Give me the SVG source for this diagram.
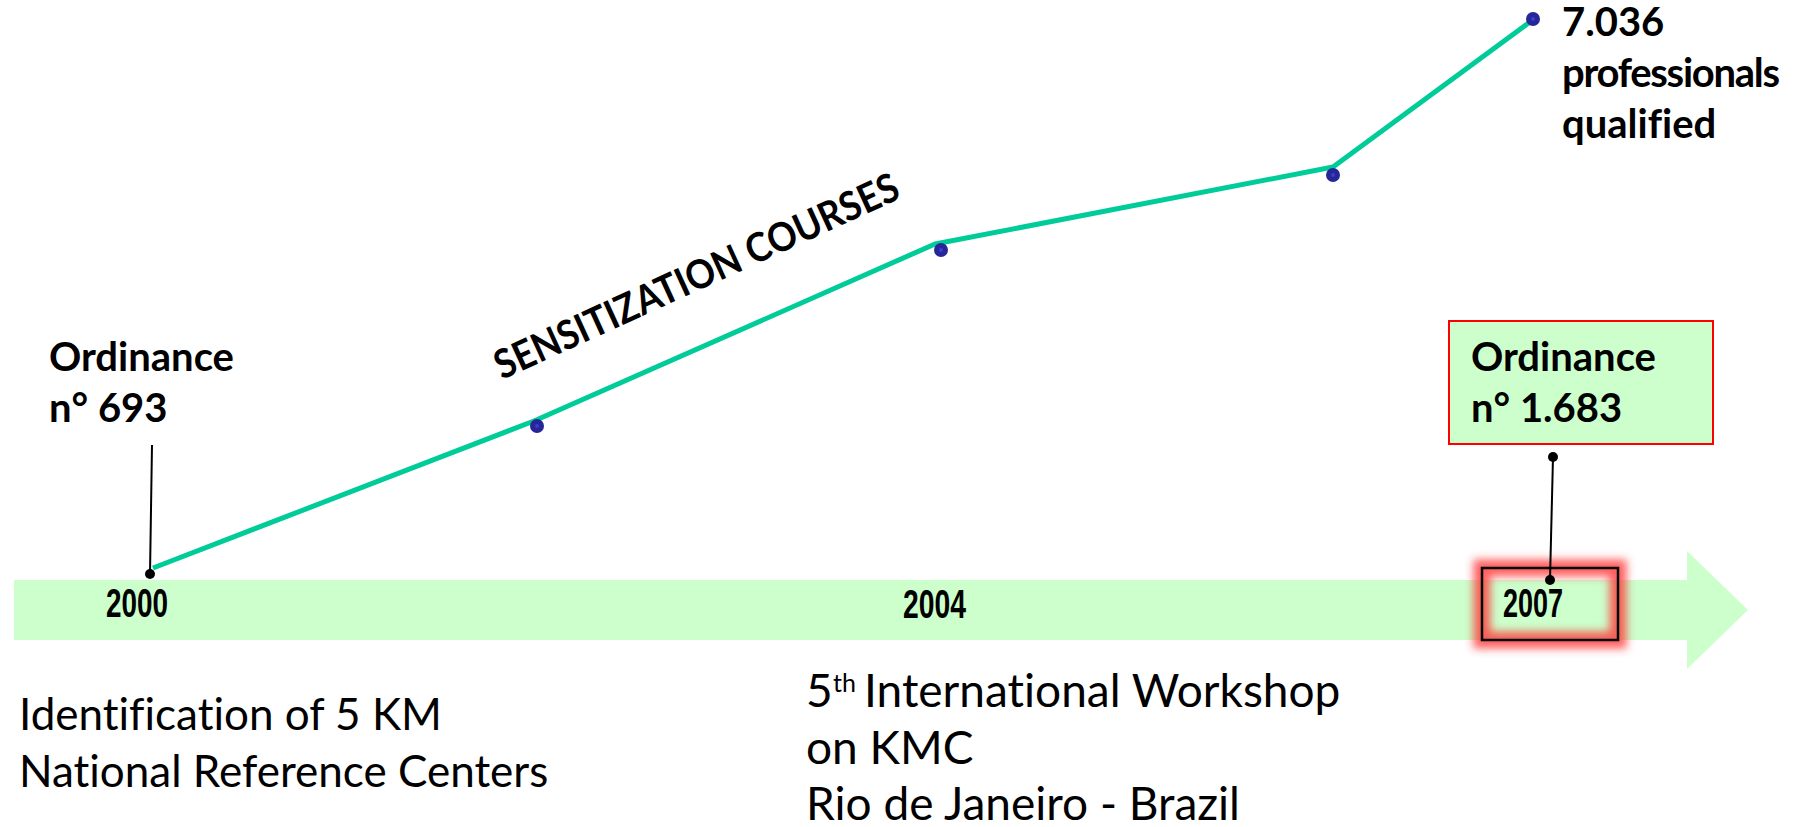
<svg xmlns="http://www.w3.org/2000/svg" width="1812" height="827" viewBox="0 0 1812 827">
<defs>
<style>
text{font-variant-ligatures:none;font-feature-settings:"liga" 0,"clig" 0}
.b{font-family:Lato,"Open Sans",sans-serif;font-weight:bold;font-size:40px;fill:#000}
.r{font-family:Lato,"Open Sans",sans-serif;font-size:44px;fill:#000}
.w{font-size:46px}
.y{font-family:"Liberation Sans",Arial,sans-serif;font-weight:bold;font-size:41px;fill:#000}
.dot{fill:#262699}
.dotc{fill:#3d3dcc}
.lead{stroke:#000;stroke-width:2;fill:none}
</style>
<filter id="glow" x="-40%" y="-60%" width="180%" height="220%"><feGaussianBlur stdDeviation="4.5"/></filter>
</defs>
<rect width="1812" height="827" fill="#fff"/>
<g id="timeline-arrow">
<path d="M14 580 H1687 V551 L1748 610 L1687 669 V640 H14 Z" fill="#ccffcc"/>
</g>
<g id="year-2000"><text class="y" x="106" y="617" textLength="62" lengthAdjust="spacingAndGlyphs">2000</text></g>
<g id="year-2004"><text class="y" x="903" y="618" textLength="63" lengthAdjust="spacingAndGlyphs">2004</text></g>
<g id="year-2007">
<rect x="1482" y="568" width="136" height="72" fill="none" stroke="#ff3838" stroke-width="17" stroke-opacity="0.8" filter="url(#glow)"/>
<rect x="1482" y="568" width="136" height="72" fill="none" stroke="#000" stroke-width="2.5"/>
<text class="y" x="1503" y="617" textLength="60" lengthAdjust="spacingAndGlyphs">2007</text>
</g>
<g id="connectors">
<polyline points="153,568 534,421 935,244 1333,167 1530,22" fill="none" stroke="#00cc99" stroke-width="5" stroke-linejoin="round"/>
<line class="lead" x1="152" y1="445" x2="150" y2="574"/>
<circle cx="150" cy="574" r="5" fill="#000"/>
<line class="lead" x1="1553" y1="457" x2="1550" y2="580"/>
<circle cx="1553" cy="457" r="5" fill="#000"/>
<circle cx="1550" cy="580" r="5" fill="#000"/>
</g>
<g id="data-points">
<circle class="dot" cx="537" cy="426" r="7"/><circle class="dotc" cx="537" cy="426" r="2"/>
<circle class="dot" cx="941" cy="250" r="7"/><circle class="dotc" cx="941" cy="250" r="2"/>
<circle class="dot" cx="1333" cy="175" r="7"/><circle class="dotc" cx="1333" cy="175" r="2"/>
<circle class="dot" cx="1533" cy="19" r="7"/><circle class="dotc" cx="1533" cy="19" r="2"/>
</g>
<g id="ordinance-693">
<text class="b" x="49" y="371">Ordinance</text>
<text class="b" x="49" y="422">n° 693</text>
</g>
<g id="ordinance-1683">
<rect x="1449" y="321" width="264" height="123" fill="#ccffcc" stroke="#ff0000" stroke-width="2"/>
<text class="b" x="1471" y="371">Ordinance</text>
<text class="b" x="1471" y="422">n° 1.683</text>
</g>
<g id="professionals">
<text class="b" x="1562" y="36">7.036</text>
<text class="b" x="1562" y="87" textLength="218" lengthAdjust="spacing">professionals</text>
<text class="b" x="1562" y="138">qualified</text>
</g>
<g id="sensitization">
<text class="b" transform="translate(502,380) rotate(-24.5)" font-size="41" textLength="440" lengthAdjust="spacingAndGlyphs">SENSITIZATION COURSES</text>
</g>
<g id="identification">
<text class="r" x="19" y="730">Identification of 5 KM</text>
<text class="r" x="19" y="787">National Reference Centers</text>
</g>
<g id="workshop">
<text class="r w" y="707"><tspan x="806">5</tspan><tspan x="833" y="692" font-size="25">th</tspan><tspan x="864" y="707">International Workshop</tspan></text>
<text class="r w" x="806" y="764">on KMC</text>
<text class="r w" x="806" y="820">Rio de Janeiro - Brazil</text>
</g>
</svg>
